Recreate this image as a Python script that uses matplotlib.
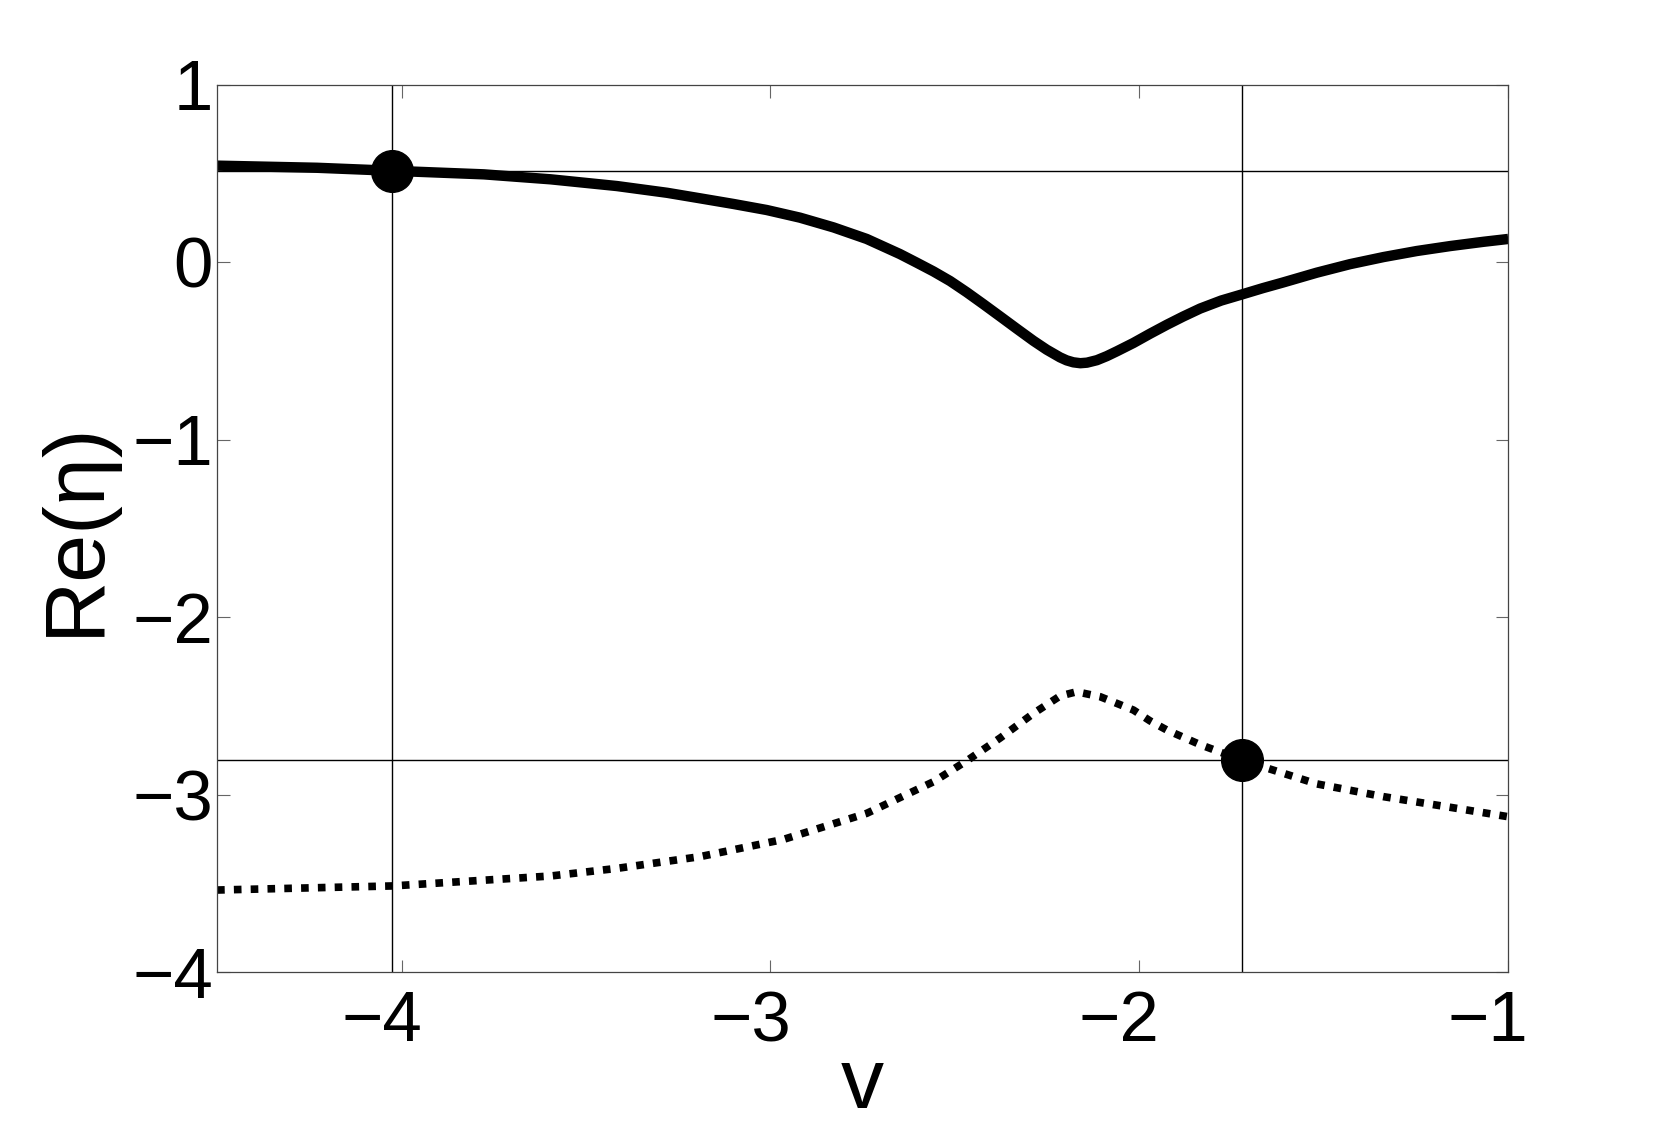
import matplotlib
matplotlib.use("Agg")
import matplotlib.pyplot as plt
from matplotlib.transforms import ScaledTranslation

plt.rcParams['font.family'] = ['Liberation Sans', 'DejaVu Sans']

# Upper branch (solid)
v_upper = [-4.5, -4.229, -4.025, -3.777, -3.596, -3.416, -3.280, -3.191, -3.100,
           -3.010, -2.920, -2.829, -2.739, -2.649, -2.604, -2.558, -2.513, -2.468,
           -2.423, -2.377, -2.332, -2.287, -2.251, -2.215, -2.197, -2.179, -2.160,
           -2.142, -2.115, -2.088, -2.061, -2.016, -1.971, -1.925, -1.881, -1.835,
           -1.778, -1.721, -1.665, -1.610, -1.519, -1.429, -1.338, -1.248, -1.157,
           -1.067, -1.0]
re_upper = [0.543, 0.531, 0.514, 0.494, 0.466, 0.428, 0.390, 0.359, 0.327,
            0.293, 0.250, 0.195, 0.130, 0.045, -0.003, -0.053, -0.107, -0.170,
            -0.237, -0.307, -0.376, -0.444, -0.494, -0.537, -0.554, -0.565, -0.570,
            -0.567, -0.553, -0.530, -0.503, -0.456, -0.404, -0.353, -0.307, -0.262,
            -0.217, -0.182, -0.147, -0.115, -0.060, -0.012, 0.028, 0.062, 0.090,
            0.114, 0.130]

# Lower branch (dotted)
v_lower = [-4.5, -4.025, -3.596, -3.416, -3.191, -2.965, -2.739, -2.558, -2.468,
           -2.377, -2.287, -2.215, -2.170, -2.106, -2.016, -1.971, -1.925, -1.835,
           -1.721, -1.519, -1.338, -1.157, -1.0]
re_lower = [-3.538, -3.515, -3.459, -3.416, -3.350, -3.253, -3.106, -2.928, -2.810,
            -2.681, -2.543, -2.445, -2.421, -2.449, -2.524, -2.585, -2.637, -2.719,
            -2.807, -2.940, -3.012, -3.072, -3.125]

# Marked points and guide lines
mark_v = [-4.025, -1.7215]
mark_re = [0.514, -2.807]

x_ticks = [-4, -3, -2, -1]
x_ticklabels = ['\u22124', '\u22123', '\u22122', '\u22121']
y_ticks = [1, 0, -1, -2, -3, -4]
y_ticklabels = ['1', '0', '\u22121', '\u22122', '\u22123', '\u22124']

fig = plt.figure(figsize=(16.66, 11.27), dpi=100)
ax = fig.add_axes([0.1303, 0.1375, 0.9053 - 0.1303, 0.9250 - 0.1375])

for xv in mark_v:
    ax.axvline(xv, color='black', lw=1.0, zorder=1)
for yv in mark_re:
    ax.axhline(yv, color='black', lw=1.0, zorder=1)

ax.plot(v_upper, re_upper, color='black', lw=7.5, solid_capstyle='butt',
        solid_joinstyle='round', zorder=2)
ax.plot(v_lower, re_lower, color='black', lw=5.5, linestyle=(0, (1.0, 1.2)),
        dash_capstyle='butt', zorder=2)
ax.plot(mark_v, mark_re, linestyle='none', marker='o', markersize=30,
        color='black', zorder=3)

ax.set_xlim(-4.5, -1)
ax.set_ylim(-4, 1)
ax.set_xticks(x_ticks)
ax.set_xticklabels(x_ticklabels)
ax.set_yticks(y_ticks)
ax.set_yticklabels(y_ticklabels)

ax.tick_params(axis='both', which='major', direction='in', length=9, width=0.8,
               color='#666666', labelsize=51, top=True, right=True)
ax.tick_params(axis='x', pad=13)
ax.tick_params(axis='y', pad=3)

for s in ax.spines.values():
    s.set_color('#444444')
    s.set_linewidth(0.9)

# MATLAB-style: digit centred on tick, minus sign hanging to the left
offset = ScaledTranslation(-20 / 100.0, 0, fig.dpi_scale_trans)
for tick in ax.xaxis.get_major_ticks():
    tick.label1.set_transform(tick.label1.get_transform() + offset)

ax.set_xlabel('v', fontsize=62, va='baseline')
ax.xaxis.set_label_coords(0.5, -0.1532)
ax.set_ylabel('Re(\u03b7)', fontsize=62, va='baseline')
ax.yaxis.set_label_coords(-0.0920, 0.5)

fig.savefig('out.png', dpi=100, facecolor='white')
